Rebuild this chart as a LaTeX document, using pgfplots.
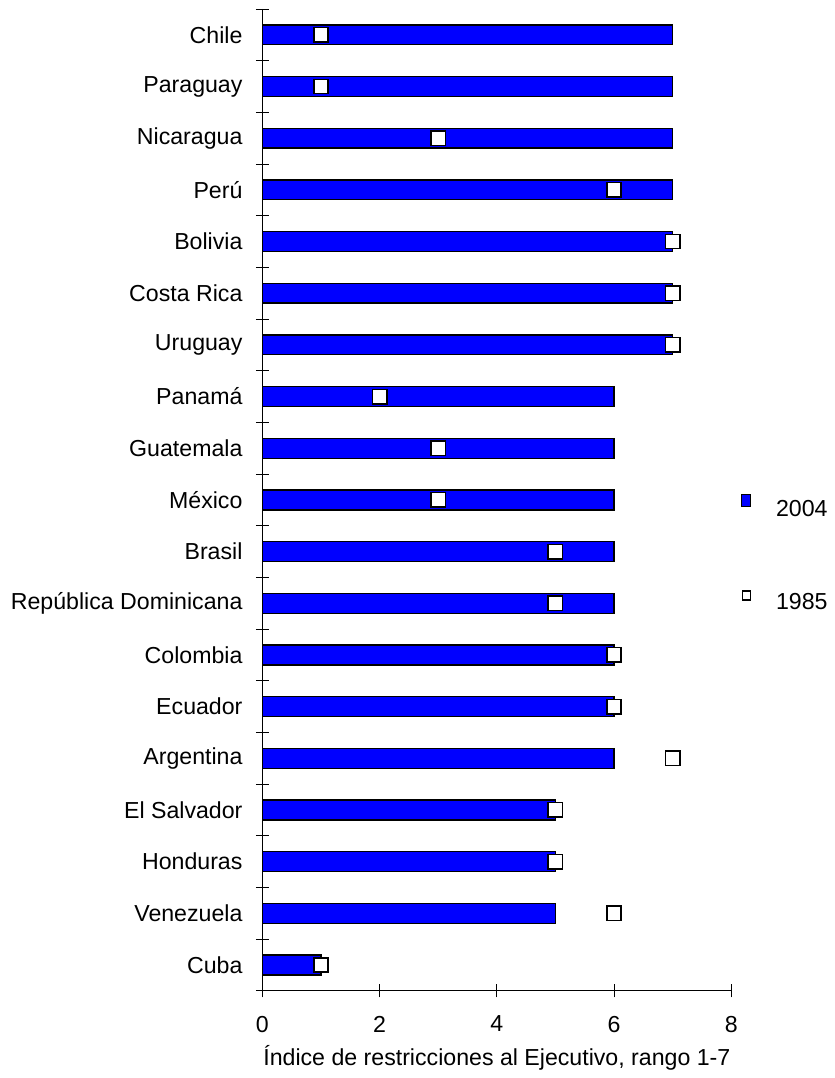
\documentclass[border=0pt]{standalone}
\usepackage{fontspec}
\setmainfont{Liberation Sans}
\usepackage{pgfplots}
\pgfplotsset{compat=1.18}
\begin{document}
\fontsize{17.4}{20}\selectfont
\begin{tikzpicture}
\begin{axis}[
  scale only axis, width=352.5pt, height=738pt,
  xmin=0, xmax=8, ymin=-0.5, ymax=18.5, y dir=reverse,
  clip=false,
  axis x line*=bottom, axis y line*=left,
  axis line style={line width=0.6pt},
  tick style={line width=0.6pt, black},
  tick align=center,
  major tick length=10pt,
  xtick={0,2,4,6,8},
  xticklabel style={yshift=-8pt},
  /pgf/number format/assume math mode=true,
  ytick={-0.5,0.5,...,18.5},
  yticklabels={},
  extra y ticks={0,1,...,18},
  extra y tick labels={Chile,Paraguay,Nicaragua,Perú,Bolivia,Costa Rica,Uruguay,Panamá,Guatemala,México,Brasil,República Dominicana,Colombia,Ecuador,Argentina,El Salvador,Honduras,Venezuela,Cuba},
  extra y tick style={major tick length=0pt, yticklabel style={xshift=-9pt}},
  ticklabel style={font=\fontsize{17.4}{20}\selectfont},
  label style={font=\fontsize{17.4}{20}\selectfont},
  xlabel={Índice de restricciones al Ejecutivo, rango 1-7},
  xlabel style={yshift=2pt},
  legend style={at={(1.021,0.506)}, anchor=north west, draw=none, fill=none,
    font=\fontsize{17.4}{20}\selectfont, row sep=51pt, inner sep=0pt,
    /tikz/every odd column/.append style={column sep=16.5pt}},
  legend cell align=left,
]
\addplot[xbar, fill=blue, draw=black, line width=1pt, bar width=15pt,
  legend image code/.code={\draw[fill=blue,draw=black,line width=0.8pt] (0pt,2.25pt) rectangle (6.75pt,11.25pt);}]
  coordinates {(7,0) (7,1) (7,2) (7,3) (7,4) (7,5) (7,6) (6,7) (6,8) (6,9) (6,10) (6,11) (6,12) (6,13) (6,14) (5,15) (5,16) (5,17) (1,18)};
\addlegendentry{2004}
\addplot[only marks, mark=square*, mark size=5.4pt,
  mark options={fill=white, draw=black, line width=1.2pt},
  legend image code/.code={\draw[fill=white,draw=black,line width=1.2pt] (0.5pt,2.5pt) rectangle (6.5pt,9.5pt);}]
  coordinates {(1,0) (1,1) (3,2) (6,3) (7,4) (7,5) (7,6) (2,7) (3,8) (3,9) (5,10) (5,11) (6,12) (6,13) (7,14) (5,15) (5,16) (6,17) (1,18)};
\addlegendentry{1985}
\path (axis cs:-4.477,-0.674) rectangle (axis cs:9.753,20.141);
\end{axis}
\end{tikzpicture}
\end{document}
